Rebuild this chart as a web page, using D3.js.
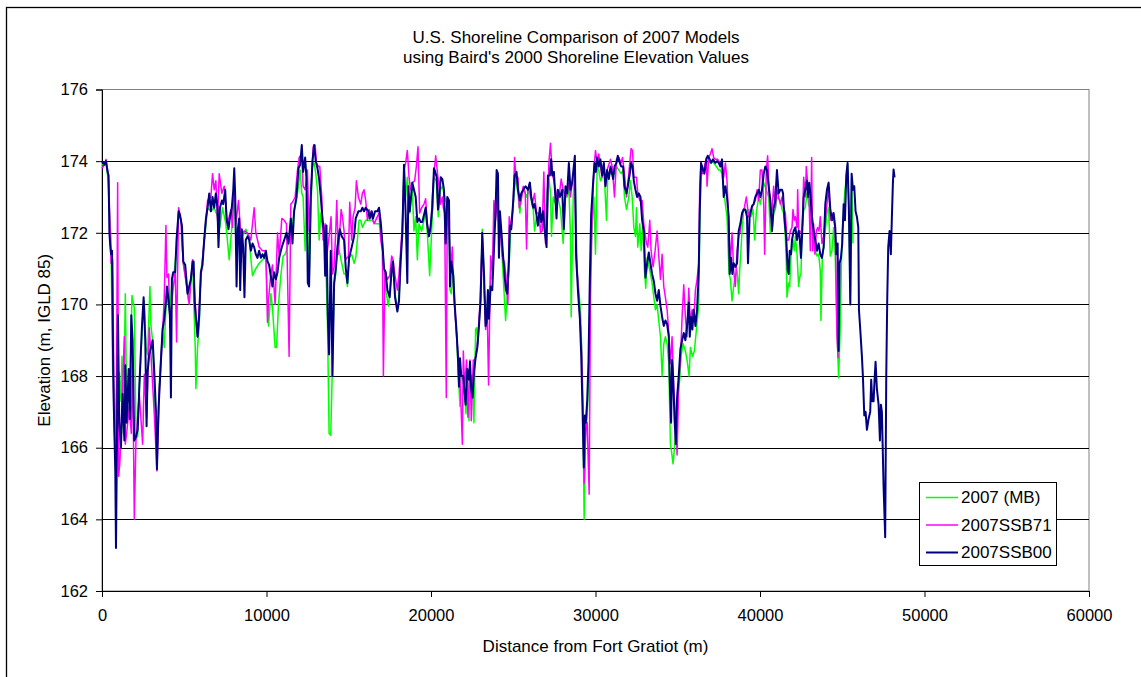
<!DOCTYPE html>
<html>
<head>
<meta charset="utf-8">
<script src="https://cdn.jsdelivr.net/npm/d3@7"></script>
<style>
  html, body { margin: 0; padding: 0; background: #fff; }
  svg { display: block; font-family: "Liberation Sans", Arial, sans-serif; }
</style>
</head>
<body>
<svg id="chart" width="1141" height="677"></svg>
<script>
// chart texts
const titleLines = ['U.S. Shoreline Comparison of 2007 Models', "using Baird's 2000 Shoreline Elevation Values"];
const xTitle = 'Distance from Fort Gratiot (m)';
const yTitle = 'Elevation (m, IGLD 85)';
const xTicks = [0, 10000, 20000, 30000, 40000, 50000, 60000];
const yTicks = [162, 164, 166, 168, 170, 172, 174, 176];
const seriesNames = ['2007 (MB)', '2007SSB71', '2007SSB00'];

// [distance (m), elevation (m)]
const mb = [
  [0,173.9],[140,173.9],[240,174.0],[340,173.6],[446,172.7],[547,171.8],[648,168.1],[749,167.7],[850,166.4],[952,166.4],
  [1053,168.1],[1154,167.3],[1215,168.55],[1296,166.4],[1417,170.3],[1498,167.3],[1660,166.8],[1822,170.25],[1964,169.9],
  [2065,166.4],[2166,166.3],[2267,167.7],[2470,169.55],[2571,170.1],[2672,168.8],[2773,168.6],[2915,170.5],[2976,169.4],
  [3077,169.0],[3239,166.95],[3340,165.75],[3482,167.7],[3583,168.6],[3684,169.2],[3785,168.8],[3886,169.9],[3988,170.2],
  [4129,169.75],[4251,170.7],[4393,170.9],[4534,171.6],[4656,172.6],[4797,172.35],[4939,171.15],[5101,170.7],[5263,170.1],
  [5506,171.15],[5668,168.8],[5708,167.65],[5809,168.8],[5910,169.4],[6012,170.9],[6214,171.7],[6416,172.7],[6619,172.6],
  [6821,172.7],[7024,172.45],[7165,172.15],[7327,172.7],[7530,172.25],[7732,171.25],[7894,172.15],[8036,173.2],[8137,171.8],
  [8339,171.8],[8542,171.9],[8744,172.1],[8946,171.8],[9149,170.8],[9351,171.0],[9554,171.15],[9756,171.25],[9958,171.3],
  [10120,169.4],[10262,170.3],[10363,169.9],[10525,168.8],[10610,168.8],[10730,170.0],[10870,170.8],[11010,171.35],
  [11135,171.4],[11275,171.6],[11415,171.9],[11540,172.05],[11680,172.65],[11820,172.9],[11945,173.3],[12045,173.75],
  [12145,173.1],[12225,173.0],[12350,171.5],[12430,173.1],[12510,172.05],[12590,170.6],[12690,172.55],[12795,173.85],
  [12895,173.95],[12995,173.65],[13100,173.2],[13200,171.8],[13300,172.55],[13400,172.15],[13500,171.9],[13605,171.15],
  [13705,169.55],[13805,166.4],[13905,166.35],[14010,168.35],[14110,170.5],[14210,170.85],[14310,171.4],[14415,171.5],
  [14575,171.15],[14715,170.85],[14820,170.85],[14920,170.5],[15020,171.3],[15180,171.4],[15325,171.15],[15425,171.3],
  [15525,171.8],[15625,172.35],[15730,172.35],[15830,172.15],[16030,172.35],[16235,172.35],[16435,172.35],[16640,172.25],
  [16840,172.25],[16945,172.15],[17045,171.7],[17145,170.95],[17245,170.4],[17410,169.95],[17550,170.6],[17690,171.15],
  [17815,170.3],[17955,169.85],[18055,170.2],[18155,171.3],[18260,172.0],[18360,173.85],[18460,173.0],[18560,173.55],
  [18705,172.55],[18865,173.2],[18965,172.05],[19070,172.45],[19170,171.25],[19270,172.25],[19430,172.05],[19575,172.35],
  [19675,172.55],[19775,172.0],[19920,170.8],[20040,172.05],[20180,173.55],[20325,173.45],[20445,172.45],[20585,173.2],
  [20685,173.3],[20890,172.9],[20990,172.8],[21095,172.7],[21155,170.4],[21235,170.3],[21355,170.95],[21440,170.0],
  [21560,169.1],[21700,167.7],[21760,167.15],[21840,168.0],[21965,167.9],[22045,167.5],[22125,166.95],[22205,168.15],
  [22310,166.75],[22410,168.0],[22510,168.0],[22610,166.7],[22710,169.3],[22775,169.35],[22855,168.9],[23015,170.2],
  [23115,172.1],[23220,170.7],[23320,169.45],[23420,170.0],[23520,169.65],[23625,170.85],[23725,170.7],[23825,172.05],
  [23925,172.45],[24030,173.3],[24130,171.7],[24230,172.25],[24330,171.3],[24435,170.4],[24535,169.55],[24635,170.2],
  [24735,170.95],[24840,172.05],[25000,172.8],[25145,173.55],[25285,173.1],[25405,172.55],[25485,173.0],[25645,173.2],
  [25810,173.0],[25950,173.2],[26090,172.9],[26215,172.65],[26295,172.05],[26415,172.45],[26560,172.25],[26700,172.15],
  [26820,172.45],[26960,171.9],[27065,173.2],[27165,173.55],[27265,173.1],[27325,171.9],[27430,173.0],[27570,172.8],
  [27710,173.0],[27875,172.65],[28035,171.7],[28175,173.0],[28280,173.0],[28380,173.3],[28480,171.9],[28520,169.65],
  [28645,173.0],[28745,173.95],[28885,170.85],[28985,170.4],[29090,169.8],[29190,168.35],[29250,166.5],[29310,164.0],
  [29390,166.5],[29495,166.85],[29595,168.15],[29695,171.15],[29795,172.25],[29900,173.0],[30000,171.4],[30100,173.85],
  [30200,173.75],[30300,173.45],[30405,173.55],[30505,173.85],[30670,172.35],[30750,173.65],[30910,173.65],[31015,173.65],
  [31155,173.65],[31275,173.85],[31420,173.75],[31560,173.65],[31680,173.75],[31760,173.0],[31885,172.65],[32025,173.0],
  [32125,173.45],[32230,173.0],[32330,172.15],[32430,171.9],[32490,172.7],[32570,171.6],[32695,172.25],[32775,171.5],
  [32895,172.25],[32975,170.95],[33055,170.45],[33140,171.3],[33300,170.95],[33440,170.6],[33545,170.2],[33645,169.85],
  [33745,170.0],[33845,169.55],[33950,169.1],[34050,168.0],[34150,168.9],[34250,169.1],[34355,168.9],[34455,168.35],
  [34555,166.1],[34635,165.85],[34715,165.55],[34800,166.0],[34920,166.75],[35000,167.4],[35120,167.9],[35200,168.55],
  [35325,168.9],[35465,168.7],[35565,168.45],[35690,168.0],[35770,168.8],[35890,168.55],[36010,168.7],[36135,169.3],
  [36275,170.0],[36335,172.05],[36415,173.95],[36500,173.65],[36620,173.75],[36740,173.95],[36885,173.95],[37025,174.0],
  [37185,173.95],[37350,173.85],[37490,173.75],[37590,173.75],[37690,173.65],[37835,173.0],[37995,172.45],[38120,170.85],
  [38200,170.7],[38300,170.1],[38400,170.5],[38500,170.8],[38605,170.95],[38705,170.3],[38765,170.95],[38910,172.05],
  [39010,172.65],[39110,172.65],[39210,172.55],[39330,172.65],[39455,172.45],[39575,172.65],[39675,171.8],[39775,172.55],
  [39920,173.0],[40020,172.8],[40225,173.4],[40385,173.2],[40525,173.0],[40630,172.0],[40730,172.05],[40830,172.55],
  [40930,172.65],[41030,173.0],[41235,172.9],[41340,172.65],[41440,172.55],[41540,171.9],[41600,171.15],[41640,170.2],
  [41745,170.6],[41805,170.5],[41885,171.35],[42005,171.8],[42085,171.5],[42150,171.9],[42250,171.4],[42350,170.5],
  [42410,170.75],[42490,170.85],[42555,172.05],[42655,172.65],[42755,172.7],[42855,173.1],[42960,172.8],[43060,172.65],
  [43160,172.25],[43260,171.8],[43360,171.5],[43465,171.35],[43565,171.4],[43665,170.95],[43705,169.55],[43790,171.35],
  [43870,171.6],[43970,172.05],[44070,172.55],[44170,172.7],[44275,171.35],[44375,171.5],[44475,172.15],[44575,171.35],
  [44680,169.3],[44780,167.95],[44880,169.4],[44980,171.9],[45080,172.6],[45165,173.2],[45245,173.5],[45325,173.9],
  [45405,172.7],[45490,170.1],[45570,173.5],[45650,171.7]
];

const ssb71 = [
  [0,173.8],[140,173.9],[243,174.05],[344,173.75],[405,173.4],[486,172.25],[547,171.15],[648,171.25],[749,166.5],[850,165.2],
  [952,173.4],[1012,165.2],[1093,165.65],[1215,167.15],[1356,169.1],[1417,166.1],[1498,166.4],[1660,167.15],[1781,166.4],
  [1862,168.55],[1964,164.0],[2065,166.2],[2267,167.5],[2470,166.1],[2571,168.05],[2712,166.85],[2874,169.35],[2976,168.6],
  [3178,166.95],[3340,165.35],[3482,167.6],[3684,169.2],[3785,170.2],[3886,172.2],[3947,170.75],[4048,170.85],[4129,169.35],
  [4291,170.3],[4453,170.95],[4534,168.95],[4656,172.7],[4797,172.35],[4939,171.15],[5303,170.0],[5506,171.25],[5708,169.75],
  [5809,169.1],[6012,170.75],[6214,171.8],[6416,172.9],[6619,173.0],[6720,173.65],[6821,173.2],[6922,173.45],[7024,172.35],
  [7125,173.65],[7287,173.1],[7429,173.3],[7631,172.25],[7834,172.65],[7935,172.15],[8036,173.45],[8137,172.25],[8299,172.9],
  [8440,171.9],[8643,172.05],[8845,172.0],[9048,171.8],[9250,172.7],[9351,172.0],[9554,171.6],[9756,171.5],[9958,171.5],
  [10060,169.5],[10120,170.1],[10262,170.85],[10363,171.1],[10525,170.0],[10670,172.0],[10770,171.35],[10930,172.4],
  [11075,172.35],[11215,172.25],[11375,168.55],[11480,172.8],[11580,172.85],[11740,173.0],[11885,173.75],[11985,174.1],
  [12145,174.2],[12225,173.3],[12350,173.2],[12490,173.75],[12590,172.05],[12690,173.0],[12835,174.4],[12955,174.45],
  [13035,173.95],[13160,173.85],[13240,173.85],[13360,173.0],[13440,171.8],[13565,172.25],[13665,171.35],[13805,171.9],
  [13925,172.45],[14010,170.85],[14110,171.05],[14210,172.05],[14270,172.9],[14370,171.4],[14455,172.05],[14535,172.65],
  [14615,172.45],[14715,172.05],[14820,171.25],[14980,171.35],[15060,172.85],[15180,171.8],[15265,172.45],[15385,172.7],
  [15465,173.45],[15585,173.0],[15730,172.8],[15830,173.1],[15930,173.2],[16030,172.9],[16135,172.35],[16235,172.65],
  [16395,172.45],[16540,172.25],[16740,172.45],[16840,172.55],[16945,171.8],[17045,171.5],[17105,168.0],[17205,170.95],
  [17350,170.7],[17490,170.8],[17610,171.35],[17690,171.25],[17815,170.8],[17955,170.4],[18055,170.85],[18155,171.5],
  [18260,172.25],[18360,173.75],[18460,173.95],[18560,174.3],[18665,173.55],[18765,173.2],[18865,173.4],[19005,173.45],
  [19110,173.85],[19210,174.4],[19310,172.55],[19430,172.7],[19575,172.8],[19675,172.95],[19775,172.25],[19875,172.0],
  [19980,172.05],[20080,173.0],[20180,173.65],[20285,174.15],[20445,173.45],[20585,172.8],[20685,173.0],[20750,172.7],
  [20830,172.55],[20930,167.4],[20990,172.9],[21095,172.05],[21195,170.95],[21295,171.6],[21395,170.2],[21560,169.1],
  [21700,168.35],[21800,167.5],[21905,166.1],[21965,168.7],[22045,167.7],[22165,168.45],[22245,166.85],[22370,168.45],
  [22450,166.75],[22570,168.45],[22670,168.45],[22815,168.8],[22975,170.0],[23115,171.8],[23220,170.5],[23320,169.3],
  [23420,169.75],[23500,167.75],[23625,171.35],[23725,170.85],[23825,172.9],[23925,172.35],[24030,173.0],[24130,172.15],
  [24230,172.0],[24330,171.35],[24475,171.15],[24555,170.8],[24675,170.0],[24755,172.45],[24880,172.15],[25000,172.8],
  [25080,174.1],[25160,173.55],[25285,173.55],[25365,172.7],[25485,172.9],[25605,173.3],[25730,173.1],[25810,171.55],
  [25890,173.2],[26010,173.4],[26155,172.8],[26295,173.1],[26415,172.55],[26560,172.55],[26660,172.0],[26760,172.05],
  [26860,173.7],[26960,171.7],[27065,172.35],[27165,173.95],[27265,174.5],[27370,173.65],[27470,173.45],[27570,173.2],
  [27710,172.9],[27835,173.2],[27915,173.5],[28035,173.2],[28175,173.0],[28280,173.1],[28380,173.4],[28480,173.0],
  [28580,173.4],[28725,173.85],[28825,171.5],[28945,170.5],[29050,169.65],[29150,168.8],[29230,167.15],[29310,165.0],
  [29410,166.5],[29495,166.7],[29615,164.7],[29695,170.2],[29795,172.45],[29900,173.75],[30000,174.3],[30100,173.95],
  [30200,174.2],[30300,173.85],[30405,173.55],[30505,173.95],[30605,173.3],[30705,173.75],[30910,174.05],[31015,173.85],
  [31155,173.0],[31275,174.05],[31420,174.1],[31560,173.95],[31640,174.1],[31760,173.65],[31885,173.0],[32025,173.65],
  [32165,174.35],[32250,174.3],[32330,173.55],[32490,173.55],[32570,173.1],[32695,172.9],[32835,172.9],[32935,172.25],
  [33100,171.7],[33180,171.6],[33300,172.35],[33380,171.5],[33500,171.05],[33625,171.5],[33745,172.05],[33845,171.35],
  [33950,170.7],[34050,171.4],[34150,170.5],[34250,170.2],[34355,169.85],[34455,169.2],[34555,168.35],[34655,169.1],
  [34760,167.6],[34880,166.75],[34960,165.8],[35060,167.8],[35160,168.45],[35265,169.65],[35365,170.55],[35465,169.65],
  [35565,169.1],[35670,170.45],[35770,169.45],[35870,169.85],[35970,169.55],[36075,170.4],[36175,170.7],[36275,171.15],
  [36335,173.3],[36415,173.95],[36500,173.65],[36620,173.85],[36740,174.1],[36780,173.3],[36885,174.1],[36985,174.2],
  [37085,174.35],[37185,174.1],[37290,174.05],[37430,174.05],[37550,173.95],[37690,173.95],[37795,173.55],[37895,173.95],
  [37995,173.45],[38095,172.25],[38200,171.15],[38300,172.0],[38400,170.95],[38500,170.5],[38605,171.5],[38705,171.9],
  [38805,172.05],[38910,172.55],[39050,172.7],[39170,173.0],[39310,172.45],[39410,172.55],[39515,172.7],[39615,172.8],
  [39715,172.9],[39820,173.2],[39920,172.9],[40020,173.75],[40120,173.75],[40225,172.8],[40285,171.4],[40385,173.75],
  [40465,174.15],[40545,173.3],[40630,172.45],[40730,172.65],[40830,173.3],[40930,172.7],[41030,173.2],[41235,172.8],
  [41340,173.0],[41440,172.7],[41540,172.55],[41640,171.8],[41745,171.8],[41845,172.05],[41945,172.15],[42005,172.65],
  [42085,172.35],[42150,172.45],[42250,172.15],[42290,173.2],[42350,172.05],[42450,172.05],[42555,171.95],[42655,173.55],
  [42755,173.0],[42815,173.85],[42895,173.4],[42980,173.0],[43060,171.5],[43140,174.1],[43200,171.5],[43260,172.25],
  [43340,171.4],[43425,172.05],[43505,172.15],[43585,172.05],[43665,172.45],[43765,171.7],[43870,171.9],[43970,172.35],
  [44070,172.8],[44170,173.3],[44275,172.35],[44375,172.55],[44475,172.45],[44575,172.05],[44680,169.1],[44750,168.5]
];

const ssb00 = [
  [0,174.0],[140,173.9],[240,174.0],[340,173.7],[400,173.6],[450,172.0],[490,171.7],[550,171.4],[610,171.5],[690,167.7],
  [750,166.5],[810,165.3],[850,163.2],[910,166.2],[970,169.7],[1050,166.7],[1150,166.0],[1250,167.5],[1360,166.2],
  [1420,168.3],[1500,166.7],[1620,168.2],[1700,166.8],[1780,169.7],[1860,169.0],[1960,166.2],[2060,166.3],[2170,166.5],
  [2270,167.7],[2430,169.4],[2530,170.2],[2630,169.0],[2710,166.6],[2770,168.1],[2870,168.6],[2980,168.8],[3080,169.0],
  [3180,168.1],[3280,167.0],[3340,165.4],[3440,167.1],[3580,168.4],[3680,169.3],[3790,169.6],[3890,170.1],[3950,170.5],
  [4050,170.1],[4130,169.7],[4190,167.4],[4250,170.7],[4330,170.9],[4450,170.9],[4530,171.8],[4660,172.6],[4740,172.5],
  [4860,172.2],[4940,171.2],[5060,171.1],[5200,170.3],[5300,170.5],[5400,170.7],[5510,171.2],[5570,171.2],[5630,170.1],
  [5710,169.6],[5810,169.1],[5910,169.7],[6010,170.9],[6110,171.1],[6210,171.8],[6320,172.4],[6420,172.7],[6520,173.1],
  [6620,172.6],[6720,173.0],[6820,172.7],[6920,173.1],[7020,172.7],[7080,171.6],[7170,172.7],[7290,172.9],[7370,172.8],
  [7490,173.2],[7570,172.4],[7690,172.1],[7770,172.4],[7890,172.7],[7980,173.2],[8040,173.8],[8100,173.0],[8180,170.5],
  [8260,172.1],[8340,172.4],[8400,170.4],[8500,172.1],[8580,171.6],[8660,170.2],[8740,171.8],[8850,171.9],[8950,171.8],
  [9050,171.5],[9150,171.7],[9250,171.6],[9350,171.4],[9450,171.3],[9550,171.5],[9660,171.3],[9760,171.4],[9860,171.3],
  [9960,171.5],[10060,171.2],[10160,171.1],[10260,170.8],[10360,170.5],[10460,170.9],[10570,170.7],[10670,170.9],
  [10770,171.3],[10930,171.6],[11075,171.8],[11215,172.0],[11335,171.7],[11480,172.4],[11580,171.7],[11680,172.6],
  [11820,173.0],[11945,173.8],[12045,173.9],[12145,174.45],[12225,173.7],[12350,174.1],[12430,173.5],[12510,170.6],
  [12590,170.5],[12690,173.0],[12795,174.0],[12895,174.45],[12995,174.0],[13100,173.8],[13200,173.5],[13300,173.0],
  [13400,172.4],[13500,172.0],[13565,170.8],[13645,172.2],[13725,169.7],[13805,168.6],[13905,171.5],[14010,168.0],
  [14110,170.6],[14210,171.0],[14310,171.6],[14455,172.1],[14575,171.9],[14715,171.8],[14820,171.0],[14920,170.6],
  [15020,171.3],[15180,171.6],[15325,171.9],[15425,172.4],[15585,172.6],[15730,172.6],[15830,172.7],[15930,172.6],
  [16030,172.7],[16195,172.6],[16275,172.4],[16395,172.6],[16475,172.4],[16600,172.6],[16740,172.6],[16840,172.7],
  [16945,172.3],[17045,171.7],[17145,171.0],[17245,170.9],[17350,170.4],[17490,170.2],[17610,171.0],[17690,171.2],
  [17815,170.2],[17955,169.8],[18055,170.1],[18155,171.2],[18260,172.0],[18360,173.9],[18460,172.5],[18560,170.6],
  [18625,173.3],[18705,172.6],[18865,173.4],[18965,173.2],[19070,173.0],[19170,172.3],[19270,172.4],[19370,172.3],
  [19470,172.3],[19575,172.5],[19675,172.7],[19775,172.2],[19875,171.9],[19980,172.2],[20080,172.7],[20180,173.8],
  [20225,173.75],[20345,173.55],[20425,172.65],[20485,172.9],[20590,173.55],[20690,173.5],[20790,173.2],[20890,171.7],
  [20990,173.0],[21095,172.9],[21155,170.5],[21235,171.2],[21355,170.8],[21440,170.0],[21560,169.2],[21640,168.5],
  [21700,167.7],[21760,168.5],[21840,168.0],[21965,168.0],[22045,167.5],[22105,167.2],[22205,168.2],[22310,167.9],
  [22370,168.4],[22450,167.6],[22530,167.4],[22610,168.1],[22710,168.5],[22815,168.8],[22915,169.4],[23015,170.1],
  [23115,172.0],[23220,170.9],[23320,169.4],[23380,169.5],[23460,170.4],[23520,169.6],[23625,170.5],[23725,170.4],
  [23825,171.5],[23925,172.6],[23990,173.75],[24070,173.65],[24130,171.3],[24190,172.6],[24270,172.1],[24390,171.3],
  [24475,170.8],[24555,170.4],[24635,170.3],[24735,171.2],[24795,172.2],[24880,172.1],[25000,172.9],[25080,173.6],
  [25200,173.7],[25285,173.2],[25405,172.9],[25485,173.1],[25605,173.2],[25750,173.3],[25890,173.2],[26010,173.4],
  [26090,173.0],[26215,172.7],[26295,172.8],[26415,172.5],[26495,172.2],[26620,172.7],[26700,172.3],[26820,172.6],
  [26900,172.1],[27025,171.6],[27105,173.6],[27225,173.6],[27305,174.05],[27370,173.6],[27470,173.7],[27570,172.9],
  [27630,172.4],[27710,173.2],[27835,173.0],[27975,173.2],[28075,172.1],[28175,173.3],[28280,173.1],[28380,173.95],
  [28480,173.2],[28580,173.4],[28745,174.15],[28825,171.3],[28945,170.3],[29050,169.6],[29130,168.6],[29210,167.1],
  [29290,165.45],[29350,166.9],[29410,166.7],[29495,167.3],[29575,168.4],[29655,170.7],[29735,172.5],[29855,173.4],
  [29940,173.95],[30020,173.7],[30100,174.1],[30200,173.85],[30300,174.05],[30405,173.6],[30505,173.95],[30605,173.3],
  [30705,173.75],[30810,173.5],[30910,173.85],[31075,173.5],[31155,173.85],[31275,173.95],[31355,174.15],[31480,173.95],
  [31560,173.85],[31680,173.85],[31760,173.3],[31885,173.1],[31965,173.3],[32085,173.65],[32165,173.95],[32250,173.85],
  [32330,173.45],[32430,173.2],[32530,173.0],[32630,173.1],[32735,173.0],[32835,172.35],[32935,172.05],[33035,170.75],
  [33140,171.15],[33240,171.45],[33340,171.15],[33440,170.85],[33545,170.65],[33645,170.3],[33745,170.1],[33845,170.4],
  [33950,169.95],[34050,169.65],[34150,169.4],[34250,169.55],[34355,169.45],[34455,169.1],[34515,167.9],[34595,166.7],
  [34655,168.45],[34715,168.0],[34800,166.85],[34880,166.1],[34960,167.4],[35060,168.0],[35160,168.75],[35265,169.0],
  [35365,169.2],[35465,169.0],[35565,169.4],[35670,170.05],[35730,169.1],[35810,169.65],[35890,169.3],[35970,169.85],
  [36075,169.4],[36175,169.85],[36275,170.95],[36335,172.55],[36415,173.95],[36475,173.85],[36540,173.75],[36620,173.65],
  [36740,174.05],[36820,174.15],[36945,174.05],[37025,173.95],[37145,174.05],[37290,173.95],[37390,174.0],[37490,173.95],
  [37590,173.85],[37690,174.05],[37795,173.0],[37895,173.3],[37995,173.0],[38095,172.45],[38160,170.85],[38240,171.3],
  [38320,170.85],[38400,171.15],[38500,171.05],[38605,171.15],[38705,172.05],[38805,172.25],[38910,172.55],[39010,172.65],
  [39110,172.65],[39210,172.45],[39270,171.15],[39370,172.45],[39515,172.75],[39615,172.8],[39715,173.0],[39820,173.1],
  [39920,173.2],[40020,173.0],[40120,173.2],[40225,173.65],[40325,173.85],[40425,173.75],[40525,173.3],[40630,172.9],
  [40730,172.05],[40830,172.7],[40930,172.9],[41030,173.75],[41135,173.1],[41235,173.2],[41340,173.2],[41400,173.1],
  [41480,172.45],[41600,171.8],[41685,170.95],[41745,170.85],[41805,171.5],[41885,171.4],[41945,171.8],[42045,172.05],
  [42150,172.15],[42250,171.8],[42350,172.05],[42410,171.9],[42490,171.3],[42555,171.9],[42655,173.0],[42755,173.2],
  [42855,173.45],[42915,173.0],[42995,173.4],[43060,173.1],[43160,172.45],[43260,172.05],[43360,171.8],[43465,171.5],
  [43565,171.7],[43665,171.4],[43765,171.3],[43870,171.6],[43970,172.8],[44070,173.2],[44170,173.4],[44275,172.65],
  [44375,172.35],[44475,172.55],[44575,172.15],[44640,171.4],[44720,171.7],[44780,168.7],[44840,171.15],[44920,171.3],
  [45000,171.7],[45085,172.8],[45165,172.35],[45245,173.6],[45325,173.95],[45405,172.6],[45490,170.0],[45570,173.65],
  [45650,173.2],[45730,173.3],[45810,172.6],[45890,172.45],[45975,172.15],[46015,169.85],[46095,169.3],[46195,168.55],
  [46255,168.0],[46340,166.9],[46420,167.0],[46500,166.5],[46600,166.8],[46700,167.0],[46760,167.9],[46825,167.3],
  [46905,167.3],[46965,167.9],[47025,168.4],[47105,167.65],[47210,167.2],[47290,166.2],[47350,167.2],[47410,167.0],
  [47510,164.95],[47610,163.5],[47675,168.0],[47735,170.15],[47795,171.6],[47875,172.05],[47955,171.4],[48015,172.4],
  [48080,173.4],[48120,173.77],[48180,173.55]
];

const seriesData = [mb, ssb71, ssb00];
const seriesColors = ['#00ff00', '#ff00ff', '#000080'];
const seriesWidths = [1.5, 1.5, 2];

const svg = d3.select('#chart');
const plot = { left: 102, right: 1089, top: 89.5, bottom: 591 };

const x = d3.scaleLinear().domain([0, 60000]).range([plot.left, plot.right]);
const y = d3.scaleLinear().domain([162, 176]).range([plot.bottom, plot.top]);

// outer chart frame (runs past the right and bottom edges of the picture)
svg.append('rect')
  .attr('x', 6.5).attr('y', 7.5)
  .attr('width', 1160).attr('height', 700)
  .attr('fill', '#fff').attr('stroke', '#000').attr('stroke-width', 1.3);

// plot area border
svg.append('rect')
  .attr('x', plot.left).attr('y', plot.top)
  .attr('width', plot.right - plot.left).attr('height', plot.bottom - plot.top)
  .attr('fill', '#fff').attr('stroke', '#808080').attr('stroke-width', 1);

// horizontal gridlines
svg.append('g')
  .selectAll('line')
  .data(yTicks.filter(v => v > 162 && v < 176))
  .enter().append('line')
  .attr('x1', plot.left).attr('x2', plot.right)
  .attr('y1', d => Math.round(y(d)) + 0.5).attr('y2', d => Math.round(y(d)) + 0.5)
  .attr('stroke', '#000').attr('stroke-width', 1);

// axes
const yAxis = svg.append('g')
  .attr('transform', `translate(${plot.left},0)`)
  .call(d3.axisLeft(y).tickValues(yTicks).tickFormat(d3.format('d')).tickSize(6).tickPadding(8));

const xAxis = svg.append('g')
  .attr('transform', `translate(0,${plot.bottom})`)
  .call(d3.axisBottom(x).tickValues(xTicks).tickFormat(d3.format('d')).tickSize(6).tickPadding(12));

[yAxis, xAxis].forEach(a => {
  a.selectAll('text').attr('font-size', 16.5).attr('fill', '#000')
    .attr('font-family', '"Liberation Sans", Arial, sans-serif');
  a.selectAll('line').attr('stroke', '#000');
  a.select('.domain').attr('stroke', '#000');
});

// series lines
const line = d3.line()
  .x(d => x(d[0]))
  .y(d => y(d[1]));

seriesData.forEach((data, i) => {
  svg.append('path')
    .datum(data)
    .attr('fill', 'none')
    .attr('stroke', seriesColors[i])
    .attr('stroke-width', seriesWidths[i])
    .attr('stroke-linejoin', 'round')
    .attr('d', line);
});

// title
svg.append('text')
  .attr('x', 576).attr('y', 43)
  .attr('text-anchor', 'middle').attr('font-size', 17)
  .selectAll('tspan')
  .data(titleLines)
  .enter().append('tspan')
  .attr('x', 576)
  .attr('dy', (d, i) => i === 0 ? 0 : 20)
  .text(d => d);

// axis titles
svg.append('text')
  .attr('x', (plot.left + plot.right) / 2).attr('y', 652)
  .attr('text-anchor', 'middle').attr('font-size', 17)
  .text(xTitle);

svg.append('text')
  .attr('transform', `translate(50,${(plot.top + plot.bottom) / 2}) rotate(-90)`)
  .attr('text-anchor', 'middle').attr('font-size', 17)
  .text(yTitle);

// legend
const legend = svg.append('g').attr('transform', 'translate(919,482)');
legend.append('rect')
  .attr('x', 0.5).attr('y', 0.5)
  .attr('width', 137).attr('height', 83)
  .attr('fill', '#fff').attr('stroke', '#000').attr('stroke-width', 1);

const rows = legend.selectAll('.row')
  .data(seriesNames)
  .enter().append('g')
  .attr('class', 'row')
  .attr('transform', (d, i) => `translate(0,${15.5 + i * 27.5})`);

rows.append('line')
  .attr('x1', 7).attr('x2', 39)
  .attr('stroke', (d, i) => seriesColors[i])
  .attr('stroke-width', (d, i) => seriesWidths[i]);

rows.append('text')
  .attr('x', 42).attr('dy', '0.35em')
  .attr('font-size', 17)
  .text(d => d);
</script>
</body>
</html>
